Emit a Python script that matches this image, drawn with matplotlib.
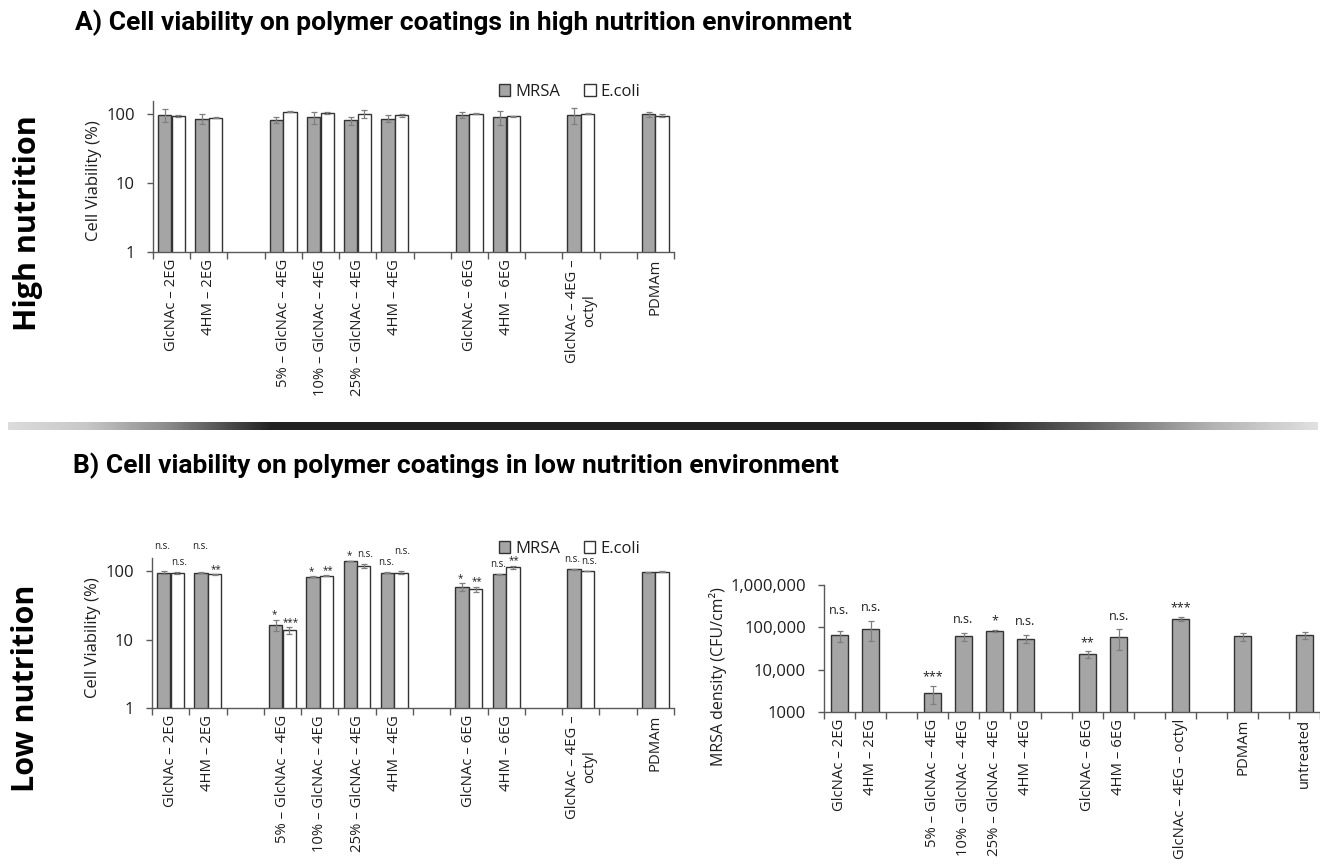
import matplotlib
matplotlib.use("Agg")
import matplotlib.pyplot as plt
import numpy as np
from matplotlib.patches import Patch
from matplotlib.ticker import FixedLocator, NullLocator

# ---------------------------------------------------------------- data
coating_labels = ["GlcNAc – 2EG", "4HM – 2EG",
                  "5% – GlcNAc – 4EG", "10% – GlcNAc – 4EG", "25% – GlcNAc – 4EG", "4HM – 4EG",
                  "GlcNAc – 6EG", "4HM – 6EG",
                  "GlcNAc – 4EG –\noctyl",
                  "PDMAm"]
coating_groups = [2, 4, 2, 1, 1]

# A) high nutrition, cell viability (%)
mrsa_high = [97, 85, 83, 90, 81, 86, 97, 90, 96, 99]
mrsa_high_err = [20, 14, 8, 19, 11, 10, 10, 20, 25, 8]
ecoli_high = [94, 89, 109, 103, 100, 96, 101, 93, 102, 95]
ecoli_high_err = [2, 2, 1, 4, 13, 5, 2, 2, 1, 4]

# B) low nutrition, cell viability (%)
mrsa_low = [95, 95, 16.5, 83, 141, 95, 59, 90, 106, 96]
mrsa_low_err = [5, 2, 3, 1, 1, 2, 8, 1, 1, 2]
ecoli_low = [93.5, 89.5, 13.6, 85.5, 118, 95, 54, 114, 100, 98]
ecoli_low_err = [2, 1, 1.5, 2, 8, 4, 5, 6, 1, 2]
sig_mrsa_low = ["n.s.", "n.s.", "*", "*", "*", "n.s.", "*", "n.s.", "n.s.", ""]
sig_ecoli_low = ["n.s.", "**", "***", "**", "n.s.", "n.s.", "**", "**", "n.s.", ""]

# B) low nutrition, MRSA surface density (CFU/cm²)
density_labels = ["GlcNAc – 2EG", "4HM – 2EG",
                  "5% – GlcNAc – 4EG", "10% – GlcNAc – 4EG", "25% – GlcNAc – 4EG", "4HM – 4EG",
                  "GlcNAc – 6EG", "4HM – 6EG",
                  "GlcNAc – 4EG – octyl",
                  "PDMAm", "untreated"]
density_groups = [2, 4, 2, 1, 1, 1]
mrsa_density = [64700, 93000, 2860, 61300, 81900, 54000, 23000, 59000, 160000, 61300, 64700]
mrsa_density_err = [19000, 45000, 1300, 13000, 6000, 12000, 4500, 30000, 18000, 14000, 11000]
sig_density = ["n.s.", "n.s.", "***", "n.s.", "*", "n.s.", "**", "n.s.", "***", "", ""]

viability_ticks = [1, 10, 100]
viability_tick_labels = ["1", "10", "100"]
density_ticks = [1000, 10000, 100000, 1000000]
density_tick_labels = ["1000", "10,000", "100,000", "1,000,000"]

# ---------------------------------------------------------------- style
plt.rcParams["font.family"] = ["Open Sans", "DejaVu Sans"]
AXIS_C = "#595959"
EDGE_C = "#333333"
MRSA_C = "#a5a5a5"
ECOLI_C = "#ffffff"
ERR_C = "#7f7f7f"
TEXT_C = "#1e1e1e"

W, H = 1320, 865
fig = plt.figure(figsize=(W / 100, H / 100), dpi=100)


def rect(x0, x1, y0, y1):
    return [x0 / W, 1 - y1 / H, (x1 - x0) / W, (y1 - y0) / H]


def slot_positions(groups):
    pos, s = [], 0
    for g in groups:
        for _ in range(g):
            pos.append(s)
            s += 1
        s += 1  # empty slot between groups
    return np.array(pos, dtype=float), s - 1


def sig_label(ax, x, top, text, lift, size, dx=0.0):
    # significance marks: asterisks sit high in their line box, so drop them a little
    dy = lift - (3.5 if text.startswith("*") else 0.0)
    ax.annotate(text, xy=(x, top), xytext=(dx, dy), textcoords="offset points",
                ha="center", va="bottom", fontsize=size, color=TEXT_C)


def style_axis(ax, positions, n_slots, labels, label_size):
    ax.set_xlim(-0.5, n_slots - 0.5)
    for side in ("top", "right"):
        ax.spines[side].set_visible(False)
    for side in ("left", "bottom"):
        ax.spines[side].set_color(AXIS_C)
        ax.spines[side].set_linewidth(1.0)
    ax.xaxis.set_major_locator(FixedLocator(np.arange(-0.5, n_slots, 1.0)))
    ax.xaxis.set_major_formatter(plt.NullFormatter())
    ax.tick_params(axis="x", which="major", direction="out", length=5,
                   color=AXIS_C, width=1.0)
    ax.set_xticks(positions, minor=True)
    ax.set_xticklabels(labels, minor=True, rotation=90, fontsize=label_size,
                       va="top", ha="center", multialignment="center", color=TEXT_C)
    ax.tick_params(axis="x", which="minor", length=0, pad=5)
    ax.yaxis.set_minor_locator(NullLocator())
    ax.tick_params(axis="y", which="major", direction="out", length=4,
                   color=AXIS_C, width=1.0, labelsize=12, pad=9, labelcolor=TEXT_C)


def viability_panel(rect_px, mrsa, mrsa_err, ecoli, ecoli_err,
                    sig_m=None, sig_e=None, lift_m=None, lift_e=None):
    ax = fig.add_axes(rect(*rect_px))
    ax.set_yscale("log")
    pos, n_slots = slot_positions(coating_groups)
    w = 0.355
    xm, xe = pos - 0.185, pos + 0.18
    ax.bar(xm, mrsa, width=w, color=MRSA_C, edgecolor=EDGE_C, linewidth=1.0, zorder=2)
    ax.bar(xe, ecoli, width=w, color=ECOLI_C, edgecolor=EDGE_C, linewidth=1.0, zorder=2)
    for x, v, e in ((xm, mrsa, mrsa_err), (xe, ecoli, ecoli_err)):
        ax.errorbar(x, v, yerr=e, fmt="none", ecolor=ERR_C, elinewidth=0.9,
                    capsize=2.2, capthick=0.9, zorder=3)
    if sig_m is not None:
        for x, v, e, s, r in zip(xm, mrsa, mrsa_err, sig_m, lift_m):
            if s:
                sig_label(ax, x, v + e, s, r, 7, dx=-1.0)
        for x, v, e, s, r in zip(xe, ecoli, ecoli_err, sig_e, lift_e):
            if s:
                sig_label(ax, x, v + e, s, r, 7, dx=1.0)
    ax.set_ylim(1, 155)
    ax.set_yticks(viability_ticks)
    ax.set_yticklabels(viability_tick_labels)
    ax.set_ylabel("Cell Viability (%)", fontsize=12, color=TEXT_C)
    ax.yaxis.set_label_coords(-0.098, 0.47)
    style_axis(ax, pos, n_slots, coating_labels, 10.7)
    ax.legend(handles=[Patch(facecolor=MRSA_C, edgecolor=EDGE_C, label="MRSA"),
                       Patch(facecolor=ECOLI_C, edgecolor=EDGE_C, label="E.coli")],
              loc="center left", bbox_to_anchor=(0.664, 1.06), ncol=2, frameon=False,
              fontsize=12, borderpad=0, borderaxespad=0, handlelength=0.68,
              handleheight=0.68, handletextpad=0.3, columnspacing=1.45,
              labelcolor=TEXT_C)
    return ax


# A) high nutrition
viability_panel((153, 674, 101, 252), mrsa_high, mrsa_high_err, ecoli_high, ecoli_high_err)

# B) low nutrition, viability
lift_m = [14, 14, 3, 3, 3, 3, 3, 3, 3, 3]
lift_e = [3, 3, 3, 3, 3, 10, 3, 3, 3, 3]
viability_panel((152, 674, 558, 708), mrsa_low, mrsa_low_err, ecoli_low, ecoli_low_err,
                sig_mrsa_low, sig_ecoli_low, lift_m, lift_e)

# B) low nutrition, MRSA density
axd = fig.add_axes(rect(824, 1320, 585, 712))
axd.set_yscale("log")
dpos, d_slots = slot_positions(density_groups)
axd.bar(dpos, mrsa_density, width=0.58, color=MRSA_C, edgecolor=EDGE_C, linewidth=1.0, zorder=2)
axd.errorbar(dpos, mrsa_density, yerr=mrsa_density_err, fmt="none", ecolor=ERR_C,
             elinewidth=0.9, capsize=2.2, capthick=0.9, zorder=3)
lift_d = [10, 5, 5, 5, 5, 5, 5, 5, 5, 5, 5]
for x, v, e, s, r in zip(dpos, mrsa_density, mrsa_density_err, sig_density, lift_d):
    if s:
        sig_label(axd, x, v + e, s, r, 9)
axd.set_ylim(1000, 1e6)
axd.set_yticks(density_ticks)
axd.set_yticklabels(density_tick_labels)
style_axis(axd, dpos, d_slots, density_labels, 10.7)
axd.set_ylabel("MRSA density (CFU/cm²)", fontsize=11.5, color=TEXT_C)
axd.yaxis.set_label_coords(-0.196, 0.28)

# ---------------------------------------------------------------- titles
title_kw = dict(fontsize=19, fontweight="bold", family="Roboto", ha="left", va="center")
fig.text(75 / W, 1 - 23 / H, "A) Cell viability on polymer coatings in high nutrition environment", **title_kw)
fig.text(73 / W, 1 - 466 / H, "B) Cell viability on polymer coatings in low nutrition environment", **title_kw)

side_kw = dict(fontsize=22, fontweight="bold", family="Open Sans", rotation=90,
               ha="center", va="center")
fig.text(28 / W, 1 - 223 / H, "High nutrition", **side_kw)
fig.text(26 / W, 1 - 688 / H, "Low nutrition", **side_kw)

# divider between the two sections
div = fig.add_axes(rect(8, 1318, 422, 430))
gx = np.linspace(0, 1, 600)
prof = np.interp(gx, [0.0, 0.06, 0.12, 0.2, 0.74, 0.83, 0.92, 1.0],
                 [0.86, 0.78, 0.55, 0.13, 0.13, 0.4, 0.7, 0.88])
div.imshow(np.tile(prof, (4, 1)), cmap="gray", vmin=0, vmax=1, aspect="auto",
           interpolation="bilinear")
div.set_axis_off()

fig.savefig("out.png", dpi=100)
